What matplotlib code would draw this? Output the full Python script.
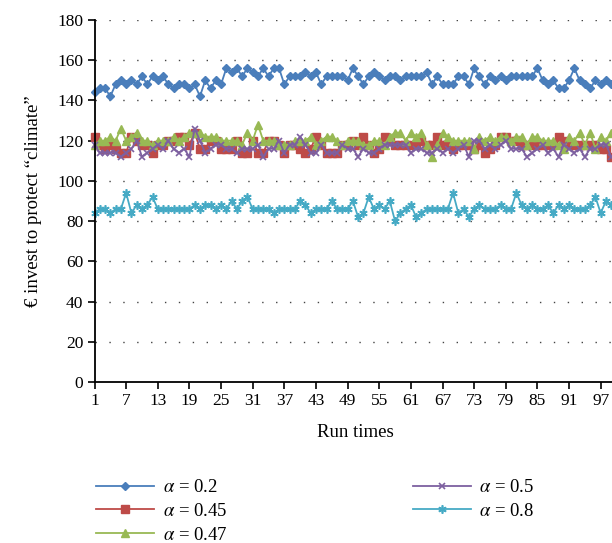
import matplotlib
matplotlib.use("Agg")
import matplotlib.pyplot as plt
import numpy as np

runs = list(range(1, 101))

a02 = [144,146,146,142,148,150,148,150,148,152,
       148,152,150,152,148,146,148,148,146,148,
       142,150,146,150,148,156,154,156,152,156,
       154,152,156,152,156,156,148,152,152,152,
       154,152,154,148,152,152,152,152,150,156,
       152,148,152,154,152,150,152,152,150,152,
       152,152,152,154,148,152,148,148,148,152,
       152,148,156,152,148,152,150,152,150,152,
       152,152,152,152,156,150,148,150,146,146,
       150,156,150,148,146,150,148,150,148,150]

a045 = [122,118,116,118,116,114,114,122,120,118,
        118,114,118,118,120,120,122,122,118,124,
        116,116,120,120,116,116,116,120,114,114,
        120,114,114,120,120,118,114,118,118,116,
        114,116,122,118,114,114,114,118,118,120,
        118,122,118,114,116,122,120,118,118,118,
        118,118,120,118,118,122,118,118,116,118,
        118,118,116,118,114,116,118,122,122,120,
        120,118,118,118,118,118,118,118,122,120,
        118,118,118,118,118,118,116,116,112,114]

a047 = [118,120,120,122,120,126,120,122,124,120,
        120,118,120,120,120,122,120,122,124,124,
        124,122,122,122,120,120,120,120,118,124,
        120,128,120,120,120,118,118,118,120,120,
        120,122,118,120,122,122,120,118,120,120,
        120,118,118,120,120,118,122,124,124,120,
        124,122,124,118,112,118,124,122,120,120,
        120,120,116,122,120,122,120,122,122,120,
        122,122,118,122,122,120,120,120,118,116,
        122,120,124,118,124,116,122,120,124,122]

a05 = [118,114,114,114,114,112,114,116,120,112,
       114,116,118,116,120,116,114,116,112,126,
       120,114,116,118,118,116,116,114,116,116,
       116,118,112,116,116,120,114,118,118,122,
       118,114,114,118,114,114,114,118,116,116,
       112,116,114,114,116,118,118,118,118,118,
       114,116,116,114,114,116,114,116,114,116,
       118,112,120,120,116,118,116,118,120,116,
       116,116,112,114,116,118,114,116,112,118,
       116,114,116,112,116,116,118,118,112,114]

a08 = [84,86,86,84,86,86,94,84,88,86,
       88,92,86,86,86,86,86,86,86,88,
       86,88,88,86,88,86,90,86,90,92,
       86,86,86,86,84,86,86,86,86,90,
       88,84,86,86,86,90,86,86,86,90,
       82,84,92,86,88,86,90,80,84,86,
       88,82,84,86,86,86,86,86,94,84,
       86,82,86,88,86,86,86,88,86,86,
       94,88,86,88,86,86,88,84,88,86,
       88,86,86,86,88,92,84,90,88,88]

mlabels = [r"$\alpha$ = 0.2", r"$\alpha$ = 0.45", r"$\alpha$ = 0.47", r"$\alpha$ = 0.5", r"$\alpha$ = 0.8"]
xtick_vals = list(range(1, 100, 6))
yticks = list(range(0, 181, 20))

plt.rcParams['font.family'] = ['Liberation Serif', 'DejaVu Serif']
plt.rcParams['mathtext.fontset'] = 'stix'

W, H = 612, 543
fig = plt.figure(figsize=(W/100, H/100), dpi=100)
left_px, right_px, top_px, bot_px = 94.5, 616.5, 20, 382
ax = fig.add_axes([left_px/W, 1 - bot_px/H, (right_px-left_px)/W, (bot_px-top_px)/H])

series = [
    (a02, '#4A7EBB', 'D', 4.5, dict()),
    (a045, '#BE4B48', 's', 5.5, dict()),
    (a047, '#98B954', '^', 6.0, dict()),
    (a05, '#7D60A0', 'x', 5.0, dict(markeredgewidth=1.2)),
    (a08, '#46AAC5', (6, 2, 0), 6.0, dict(markeredgewidth=1.2)),
]
handles = []
for (vals, col, mk, ms, kw), lab in zip(series, mlabels):
    h, = ax.plot(runs, vals, color=col, lw=1.3, marker=mk, markersize=ms,
                 markerfacecolor=col, markeredgecolor=col, label=lab, clip_on=False, **kw)
    handles.append(h)

ax.set_xlim(1, 100)
ax.set_ylim(0, 180)
ax.set_yticks(yticks)
ax.set_xticks(xtick_vals)
ax.set_xticklabels([str(v) for v in xtick_vals])
for y in yticks[1:]:
    ax.axhline(y, color='#444444', lw=1.0, linestyle=(0, (1, 9)), zorder=0)

for s in ['top', 'right']:
    ax.spines[s].set_visible(False)
for s in ['left', 'bottom']:
    ax.spines[s].set_linewidth(1.3)
    ax.spines[s].set_color('black')
ax.tick_params(axis='both', direction='out', length=5, width=1.2, labelsize=12.5, pad=3)

ax.set_ylabel("€ invest to protect “climate”", fontsize=13.5, labelpad=11)
ax.set_xlabel("Run times", fontsize=13.5, labelpad=11)

leg = fig.legend(handles=handles, labels=mlabels, ncol=2, loc='upper left',
                 bbox_to_anchor=(96/W, 1 - 479/H), frameon=False, fontsize=13.5,
                 handlelength=3.1, columnspacing=9.9, labelspacing=0.35,
                 borderpad=0, borderaxespad=0, handletextpad=0.45)

fig.savefig("out.png", dpi=100)
